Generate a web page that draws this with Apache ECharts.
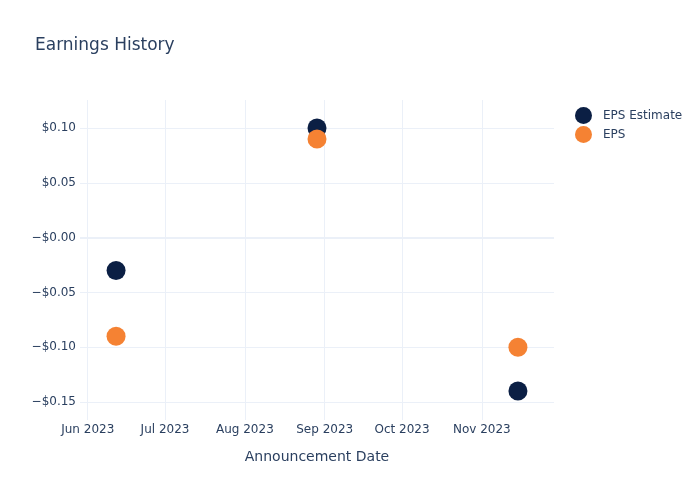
<!DOCTYPE html>
<html>
<head>
<meta charset="utf-8">
<script src="https://cdn.jsdelivr.net/npm/echarts@6/dist/echarts.min.js"></script>
<style>html,body{margin:0;padding:0;background:#fff}#c{width:700px;height:500px}</style>
</head>
<body>
<div id="c"></div>
<script>
var dates = ['2023-06-12', '2023-08-29', '2023-11-15'];
var epsEstimate = [-0.03, 0.10, -0.14];
var eps = [-0.09, 0.09, -0.10];
var yTicks = [-0.15, -0.10, -0.05, 0, 0.05, 0.10];
var xTickMonths = [[2023,5],[2023,6],[2023,7],[2023,8],[2023,9],[2023,10]];
var monthNames = ['Jan','Feb','Mar','Apr','May','Jun','Jul','Aug','Sep','Oct','Nov','Dec'];

function ts(s){ var p = s.split('-'); return new Date(+p[0], +p[1]-1, +p[2]).getTime(); }
var xTicks = xTickMonths.map(function(m){ return new Date(m[0], m[1], 1).getTime(); });

var font = 'DejaVu Sans, Verdana, sans-serif';
var textColor = '#2a3f5f';
var gridColor = '#ebf0f8';

var chart = echarts.init(document.getElementById('c'), null, {renderer:'canvas'});
chart.setOption({
  animation: false,
  backgroundColor: '#fff',
  textStyle: {fontFamily: font},
  title: {
    text: 'Earnings History', left: 30, top: 32,
    textStyle: {fontFamily: font, fontSize: 17, fontWeight: 'normal', color: textColor}
  },
  legend: {
    orient: 'vertical', left: 570, top: 102, itemWidth: 17, itemHeight: 17, itemGap: 2,
    icon: 'circle',
    textStyle: {fontFamily: font, fontSize: 12, color: textColor, padding: [0, 0, 0, 6]},
    data: ['EPS Estimate', 'EPS']
  },
  grid: {left: 80, right: 146, top: 100, bottom: 80, containLabel: false},
  xAxis: {
    type: 'value',
    min: ts('2023-05-29'), max: ts('2023-11-29'),
    name: 'Announcement Date', nameLocation: 'middle', nameGap: 30,
    nameTextStyle: {fontFamily: font, fontSize: 14, color: textColor},
    axisLine: {show: false},
    axisTick: {show: false, customValues: xTicks},
    axisLabel: {
      customValues: xTicks, color: textColor, fontFamily: font, fontSize: 12, margin: 4,
      formatter: function(v){ var d = new Date(v); return monthNames[d.getMonth()] + ' ' + d.getFullYear(); }
    },
    splitLine: {show: true, lineStyle: {color: gridColor, width: 1}}
  },
  yAxis: {
    type: 'value',
    min: -0.1664, max: 0.1255,
    axisLine: {show: false},
    axisTick: {show: false, customValues: yTicks},
    axisLabel: {
      customValues: yTicks, color: textColor, fontFamily: font, fontSize: 12, margin: 4,
      formatter: function(v){ return (v < 0.001 ? '\u2212$' : '$') + Math.abs(v).toFixed(2); }
    },
    splitLine: {show: true, lineStyle: {color: gridColor, width: 1}}
  },
  series: [
    {
      name: 'EPS Estimate', type: 'scatter', symbolSize: 19,
      itemStyle: {color: '#0b1f44', opacity: 1},
      markLine: {
        silent: true, symbol: 'none', label: {show: false},
        lineStyle: {color: gridColor, width: 2, type: 'solid'},
        data: [{yAxis: 0}]
      },
      data: dates.map(function(d, i){ return [ts(d), epsEstimate[i]]; })
    },
    {
      name: 'EPS', type: 'scatter', symbolSize: 19,
      itemStyle: {color: '#f58233', opacity: 1},
      data: dates.map(function(d, i){ return [ts(d), eps[i]]; })
    }
  ]
});
</script>
</body>
</html>
